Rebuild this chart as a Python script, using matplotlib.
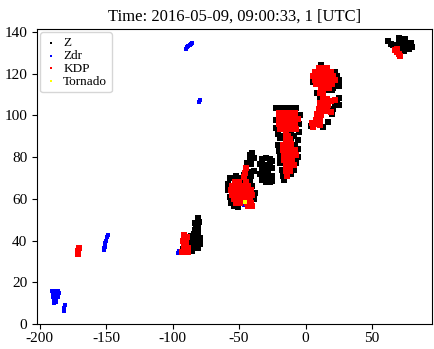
import matplotlib
matplotlib.use("Agg")
import matplotlib.pyplot as plt
import numpy as np

plt.rcParams['font.family'] = ['Liberation Serif', 'DejaVu Serif']
plt.rcParams['axes.unicode_minus'] = False

# radar gates, (x, y) pairs per cell
z_cell_ne = [(62, 135.5), (64, 134.5), (66, 134), (68, 133), (70, 133), (70, 135.5), (72, 136.5),
             (72, 134), (74, 135), (74, 133), (76, 134), (76, 132), (78, 134), (78, 132), (80, 133),
             (72, 131.5), (74, 131), (70, 137), (75, 136.5), (79, 135)]
z_cell_b = [(22, 121), (24, 119), (25, 117), (23, 115), (21, 113), (25, 114), (6, 116), (9, 111),
            (11, 108.5), (13, 110), (12, 124), (20, 112), (18, 112),
            (24, 107), (25, 105), (22, 105), (20, 100.5), (21, 103), (4, 95), (13, 94.5), (17, 97),
            (25, 108.5)]
z_cell_c = [(-22, 103.5), (-19, 103.5), (-16, 103.5), (-13, 103.5), (-10, 103.5), (-7, 103.5),
            (-22, 98), (-22, 94), (-21, 91), (-19, 89), (-17, 90), (-21, 86), (-20, 83), (-19, 80),
            (-19, 77), (-18, 74), (-17, 71), (-16, 69), (-11, 92), (-9, 90), (-11, 88), (-8, 86),
            (-10, 85.5), (-4.5, 100), (-5, 96), (-5, 92), (-5.5, 88), (-6, 84), (-6, 80), (-7, 77),
            (-9, 74), (-11, 72)]
z_cell_s = [(-33, 79), (-30, 79.5), (-27, 79), (-25, 78), (-34, 76.5), (-31, 76), (-27, 76),
            (-25, 75), (-33, 74), (-30, 73.5), (-28, 72), (-30, 71), (-27, 70), (-25, 71),
            (-33, 69), (-30, 68), (-27, 68), (-25, 68.5), (-34, 72)]
z_cell_d = [(-40, 82), (-42, 81), (-39, 79.5), (-42, 78.5), (-44, 77), (-41, 76.5), (-45, 74.5),
            (-43, 73), (-46, 71.5), (-44, 70), (-47, 69), (-41, 71), (-39, 73.5),
            (-57, 70), (-58, 67), (-58, 64), (-57, 61), (-56, 58), (-54, 56.5), (-51, 56),
            (-49, 70), (-52, 71), (-42, 68), (-40, 66), (-48, 67), (-39, 60), (-50, 59), (-38, 63)]
z_cell_e = [(-81, 51), (-80, 49), (-82, 47.5), (-80.5, 46), (-83, 45), (-81, 44), (-84, 43),
            (-82, 41.5), (-79.5, 41), (-85, 40), (-82, 39), (-79, 38.5), (-86, 38), (-84, 37),
            (-81, 36.5), (-87, 36), (-85, 35), (-88, 37.5), (-89, 39.5), (-91, 38), (-92, 36),
            (-86, 42), (-83, 48.5)]

zdr_pts = [(-90, 132), (-89, 132.8), (-88, 133.5), (-87, 134), (-86, 134.5), (-85, 135),
           (-80, 106.5), (-79, 107.2),
           (-151.5, 35.5), (-151, 37), (-150.5, 38.5), (-150, 40), (-149, 41.5), (-148.5, 42.5),
           (-151.8, 36.5), (-150.8, 39),
           (-190.5, 16), (-189, 16), (-187.5, 16), (-186, 16), (-190, 14.5), (-188.5, 14.5),
           (-186.5, 14.5), (-185.5, 15), (-190, 13), (-188, 13), (-186, 13), (-189.5, 11.5),
           (-188, 11.5), (-189, 10), (-187.5, 10.5),
           (-181.8, 6), (-181.4, 7.5), (-181, 9),
           (-96, 34), (-95.5, 35), (-46.5, 57)]

kdp_pts = [(67, 131.5), (69, 130.5), (70, 129.5), (71, 128.5), (69, 132),
           # cell B upper
           (10, 123), (13, 123), (16, 123), (7, 121), (10, 121), (13, 121), (16, 121), (19, 121),
           (6, 119), (9, 119), (12, 119), (15, 119), (18, 119), (21, 119),
           (7, 117), (10, 117), (13, 117), (16, 117), (19, 117), (22, 117),
           (8, 115), (11, 115), (14, 115), (17, 115), (20, 115), (12, 113), (15, 113), (18, 113),
           (11, 111), (13, 111),
           # cell B lower
           (13, 108), (16, 108), (19, 107), (22, 107.5), (11, 106), (14, 105.5), (17, 105),
           (10, 103), (13, 102.5), (16, 102), (19, 101.5), (9, 100.5), (12, 100), (8, 98),
           (11, 97.5), (5, 96.5), (8, 96), (11, 95.5), (6, 94.5),
           # cell C
           (-20, 101), (-17, 101), (-14, 101), (-11, 101), (-8, 101),
           (-20, 98.5), (-17, 98.5), (-14, 98.5), (-11, 98.5), (-8, 98.5), (-6, 98.5),
           (-20, 96), (-17, 96), (-14, 96), (-11, 96), (-8, 96),
           (-19, 93.5), (-16, 93.5), (-13, 93.5), (-10, 93.5), (-7, 93.5),
           (-15, 91), (-13, 90), (-15, 88.5), (-12, 88.5), (-17, 86), (-14, 86), (-11, 86.5),
           (-17, 83.5), (-14, 83.5), (-11, 83.5), (-8, 83.5), (-16, 81), (-13, 81), (-10, 81),
           (-7, 81), (-16, 78.5), (-13, 78.5), (-10, 78.5), (-15, 76), (-12, 76), (-9, 76),
           (-15, 73.5), (-12, 73.5), (-14, 71),
           # cell D
           (-44.5, 75), (-45.5, 72.5), (-46.5, 70.5),
           (-53, 68), (-50, 68), (-45, 68), (-55, 66), (-52, 66), (-49, 66), (-46, 66), (-43, 66),
           (-56, 64), (-53, 64), (-50, 64), (-47, 64), (-44, 64), (-41, 64),
           (-55, 62), (-52, 62), (-49, 62), (-46, 62), (-43, 62), (-40, 62),
           (-54, 60), (-51, 60), (-48, 60), (-45, 60), (-42, 60),
           (-52, 58), (-49, 58), (-44, 58), (-41, 58), (-43, 56.5), (-40, 56.5),
           # cell E
           (-91, 42.5), (-89, 41.5), (-92, 40), (-89.5, 39), (-91, 37.5), (-88.5, 36.5),
           (-90.5, 35.5), (-88, 34.5), (-92.5, 34.5),
           # isolated gate
           (-171.3, 33.5), (-171, 35), (-170.7, 36.3)]

tornado_pts = [(-45.5, 58.5)]

z_pts = z_cell_ne + z_cell_b + z_cell_c + z_cell_s + z_cell_d + z_cell_e
z_x, z_y = np.array(z_pts).T
zdr_x, zdr_y = np.array(zdr_pts).T
kdp_x, kdp_y = np.array(kdp_pts).T
tor_x, tor_y = np.array(tornado_pts).T

fig = plt.figure(figsize=(4.34, 3.49), dpi=100)
ax = fig.add_axes([0.085, 0.072, 0.91, 0.845])

ax.scatter(z_x, z_y, s=17, marker='s', c='black', linewidths=0, label='Z')
ax.scatter(zdr_x, zdr_y, s=8, marker='s', c='blue', linewidths=0, label='Zdr')
ax.scatter(kdp_x, kdp_y, s=17, marker='s', c='red', linewidths=0, label='KDP')
ax.scatter(tor_x, tor_y, s=8, marker='s', c='yellow', linewidths=0, label='Tornado')

ax.set_xlim(-202, 95)
ax.set_ylim(0, 141.5)
ax.set_xticks([-200, -150, -100, -50, 0, 50])
ax.set_yticks([0, 20, 40, 60, 80, 100, 120, 140])
ax.tick_params(labelsize=11)
ax.tick_params(axis='x', pad=2.5)
ax.set_title('Time: 2016-05-09, 09:00:33, 1 [UTC]', fontsize=12)
ax.legend(loc='upper left', fontsize=9.5, markerscale=0.35, scatterpoints=1,
          labelspacing=0.05, handlelength=0.9, handletextpad=0.5, borderpad=0.35,
          borderaxespad=0.25)

fig.savefig('out.png', dpi=100)
